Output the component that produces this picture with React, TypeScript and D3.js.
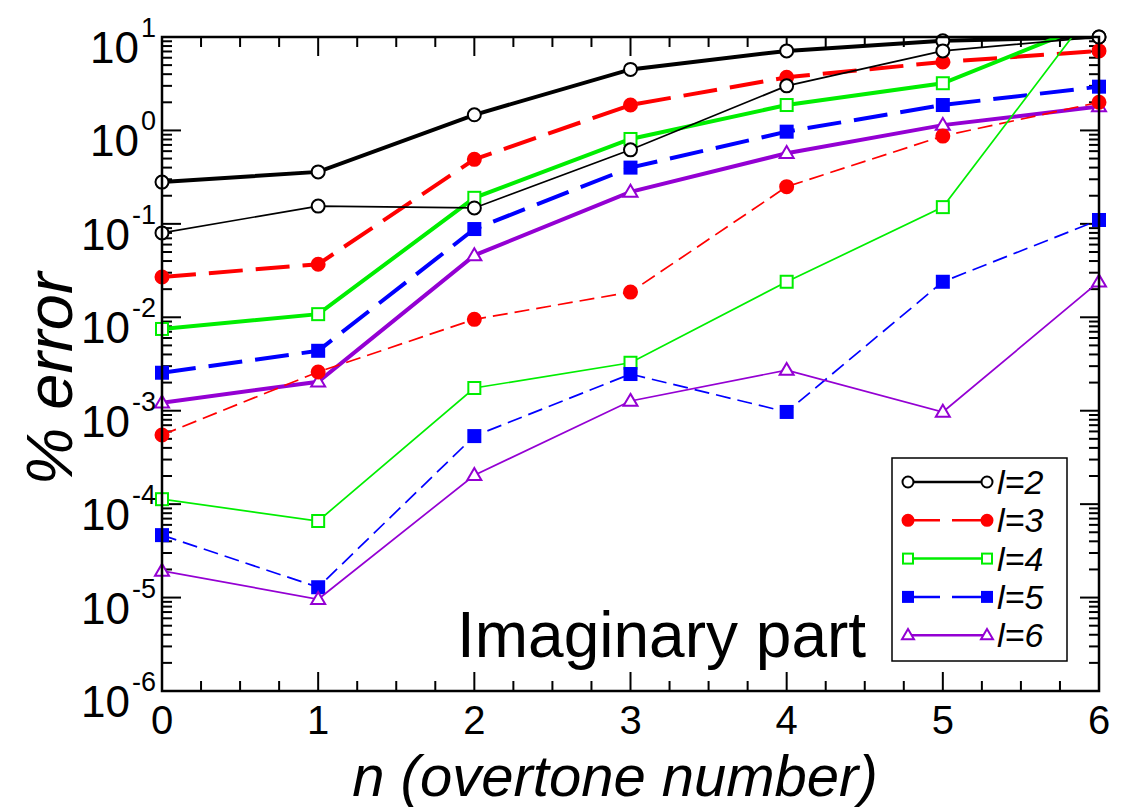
import * as d3 from "d3";

// overtone number n
const nValues = [0, 1, 2, 3, 4, 5, 6];

// % error, thick curves (upper family) and thin curves (lower family)
const l2Thick = [0.28, 0.36, 1.47, 4.5, 7.1, 9.1, 10];
const l2Thin = [0.08, 0.155, 0.148, 0.62, 3.0, 7.1, 10];
const l3Thick = [0.027, 0.037, 0.49, 1.87, 3.7, 5.4, 7.1];
const l3Thin = [0.00055, 0.0026, 0.0095, 0.0186, 0.25, 0.87, 2.0];
const l4Thick = [0.0075, 0.0108, 0.19, 0.81, 1.87, 3.2, 15];
const l4Thin = [1.13e-4, 6.6e-5, 0.00175, 0.00326, 0.024, 0.151, 24];
const l5Thick = [0.00255, 0.00438, 0.088, 0.4, 0.97, 1.87, 2.94];
const l5Thin = [4.66e-5, 1.29e-5, 5.35e-4, 0.00247, 9.7e-4, 0.024, 0.11];
const l6Thick = [0.00122, 0.00204, 0.046, 0.22, 0.57, 1.14, 1.8];
const l6Thin = [1.93e-5, 9.6e-6, 2.04e-4, 0.00127, 0.00272, 9.7e-4, 0.024];

const legendLabels = ["l=2", "l=3", "l=4", "l=5", "l=6"];
const yExponents = [1, 0, -1, -2, -3, -4, -5, -6];
const xTickLabels = ["0", "1", "2", "3", "4", "5", "6"];

type Marker = "circle" | "square" | "triangle";
interface Style { color: string; dashed: boolean; marker: Marker; filled: boolean }

const styles: Style[] = [
  { color: "#000000", dashed: false, marker: "circle", filled: false },
  { color: "#ff0000", dashed: true, marker: "circle", filled: true },
  { color: "#00ee00", dashed: false, marker: "square", filled: false },
  { color: "#0000ff", dashed: true, marker: "square", filled: true },
  { color: "#9400d3", dashed: false, marker: "triangle", filled: false },
];

const thickSets = [l2Thick, l3Thick, l4Thick, l5Thick, l6Thick];
const thinSets = [l2Thin, l3Thin, l4Thin, l5Thin, l6Thin];

const W = 1126, H = 807;
const left = 162, right = 1099, top = 37, bottom = 691;
const FONT = "'Liberation Sans', Arial, Helvetica, sans-serif";

const x = d3.scaleLinear().domain([0, 6]).range([left, right]);
const y = d3.scaleLog().domain([1e-6, 10]).range([bottom, top]);

const drawMarker = (s: Style, cx: number, cy: number, key: string, size = 7) => {
  const fill = s.filled ? s.color : "#fff";
  if (s.marker === "circle")
    return <circle key={key} cx={cx} cy={cy} r={size - 0.5} fill={fill} stroke={s.color} strokeWidth={2} />;
  if (s.marker === "square")
    return <rect key={key} x={cx - size + 1} y={cy - size + 1} width={2 * size - 2} height={2 * size - 2} fill={fill} stroke={s.color} strokeWidth={2} />;
  const h = size * 1.7;
  return (
    <path key={key} d={`M${cx},${cy - h * 0.6}L${cx + size},${cy + h * 0.4}L${cx - size},${cy + h * 0.4}Z`}
      fill={fill} stroke={s.color} strokeWidth={2} />
  );
};

export default function App() {
  const line = d3.line<number>().x((_, i) => x(nValues[i])).y((v) => y(v));

  const series = (sets: number[][], thick: boolean) =>
    sets.map((vals, k) => {
      const s = styles[k];
      const dash = s.dashed ? (thick ? "34,13" : "15,7") : undefined;
      return (
        <g key={`${thick ? "T" : "t"}${k}`}>
          <path d={line(vals) || ""} fill="none" stroke={s.color} strokeWidth={thick ? 4 : 1.7}
            strokeDasharray={dash} clipPath="url(#plotClip)" />
          {vals.map((v, i) =>
            v <= 10.0001 ? drawMarker(s, x(nValues[i]), y(v), `m${i}`) : null
          )}
        </g>
      );
    });

  const xMinor = d3.range(0, 6.001, 0.25).filter((v) => Math.abs(v - Math.round(v)) > 1e-6);
  const yMinor: number[] = [];
  yExponents.slice(1).forEach((e) => {
    for (let m = 2; m <= 9; m++) yMinor.push(m * Math.pow(10, e));
  });

  const legendX0 = 908, legendX1 = 987, legendY0 = 482, legendStep = 38.3;

  return (
    <svg width={W} height={H} style={{ position: "absolute", left: 0, top: 0, background: "#fff" }}>
      <defs>
        <clipPath id="plotClip">
          <rect x={left} y={top} width={right - left} height={bottom - top} />
        </clipPath>
      </defs>

      {/* ticks, mirrored and pointing inward */}
      <g stroke="#000" strokeWidth={2}>
        {nValues.map((v) => (
          <g key={`xt${v}`}>
            <line x1={x(v)} x2={x(v)} y1={bottom} y2={bottom - 19} />
            <line x1={x(v)} x2={x(v)} y1={top} y2={top + 19} />
          </g>
        ))}
        {xMinor.map((v) => (
          <g key={`xm${v}`}>
            <line x1={x(v)} x2={x(v)} y1={bottom} y2={bottom - 10} />
            <line x1={x(v)} x2={x(v)} y1={top} y2={top + 10} />
          </g>
        ))}
        {yExponents.map((e) => (
          <g key={`yt${e}`}>
            <line x1={left} x2={left + 19} y1={y(Math.pow(10, e))} y2={y(Math.pow(10, e))} />
            <line x1={right} x2={right - 19} y1={y(Math.pow(10, e))} y2={y(Math.pow(10, e))} />
          </g>
        ))}
        {yMinor.map((v, i) => (
          <g key={`ym${i}`}>
            <line x1={left} x2={left + 10} y1={y(v)} y2={y(v)} />
            <line x1={right} x2={right - 10} y1={y(v)} y2={y(v)} />
          </g>
        ))}
      </g>

      {series(thickSets, true)}
      {series(thinSets, false)}

      <rect x={left} y={top} width={right - left} height={bottom - top} fill="none" stroke="#000" strokeWidth={2.5} />

      {/* y tick labels */}
      {yExponents.map((e) => (
        <text key={`yl${e}`} x={156} y={y(Math.pow(10, e)) + 26} textAnchor="end" fontFamily={FONT} fontSize={44} fill="#000">
          10<tspan dy={-26} dx={2} fontSize={27}>{String(e)}</tspan>
        </text>
      ))}

      {/* x tick labels */}
      {xTickLabels.map((t, i) => (
        <text key={`xl${t}`} x={x(nValues[i])} y={734} textAnchor="middle" fontFamily={FONT} fontSize={40} fill="#000">
          {t}
        </text>
      ))}

      <text x={615} y={796} textAnchor="middle" fontFamily={FONT} fontSize={58} fontStyle="italic" fill="#000">
        n (overtone number)
      </text>
      <text transform="translate(72,379) rotate(-90)" textAnchor="middle" fontFamily={FONT} fontSize={65} fontStyle="italic" fill="#000">
        % error
      </text>
      <text x={457} y={657} fontFamily={FONT} fontSize={64} fill="#000">
        Imaginary part
      </text>

      {/* legend */}
      <rect x={892} y={458} width={175} height={203} fill="#fff" stroke="#000" strokeWidth={1.5} />
      {legendLabels.map((lab, k) => {
        const s = styles[k];
        const ly = legendY0 + k * legendStep;
        return (
          <g key={lab}>
            <line x1={legendX0} x2={legendX1} y1={ly} y2={ly} stroke={s.color} strokeWidth={2.5}
              strokeDasharray={s.dashed ? "32,12" : undefined} />
            {drawMarker(s, legendX0, ly, "a", 6)}
            {drawMarker(s, legendX1, ly, "b", 6)}
            <text x={997} y={ly + 12} fontFamily={FONT} fontSize={34} fontStyle="italic" fill="#000">
              {lab}
            </text>
          </g>
        );
      })}
    </svg>
  );
}
